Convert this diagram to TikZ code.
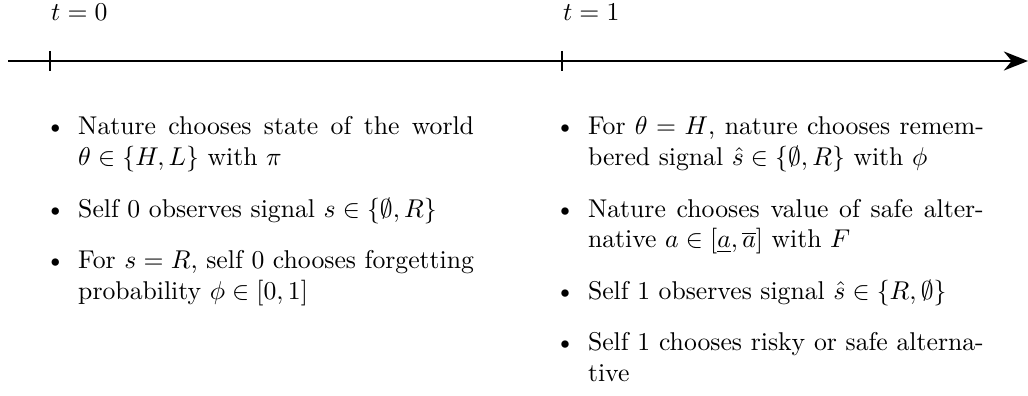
\documentclass[tikz,border=0pt]{standalone}
\usepackage{amsmath,amssymb}
\usetikzlibrary{arrows.meta}
\tikzset{
  >={Stealth[length=3.3mm,width=2.6mm]},
  tk/.style={thick},
  lbl/.style={inner sep=0pt},
  ev/.style={anchor=north west,inner sep=0pt,align=justify,text width=6.29cm},
}

\begin{document}
\begin{tikzpicture}
\useasboundingbox (-0.684,-4.567) rectangle (13.371,0.834);
\coordinate (a) at (-0.574,0); \coordinate (b) at (13.371,0);
\coordinate (p0) at (0,0); \coordinate (p1) at (7,0);
\draw[thick,->] (a)--(b);
\draw[tk] (p0) ++(0,0.14) -- ++(0,-0.28);
\draw[tk] (p1) ++(0,0.14) -- ++(0,-0.28);
\node[lbl] (l0) at (0.40,0.665){$t=0$};
\node[lbl] (l1) at (7.40,0.665){$t=1$};
\node[ev] (e0) at (-0.50,-0.30){%
\begin{itemize}
\item Nature chooses state of the world $\theta\in\{H,L\}$ with $\pi$
\item Self 0 observes signal $s\in\{\emptyset,R\}$
\item For $s=R$, self 0 chooses forgetting probability $\phi\in[0,1]$
\end{itemize}};
\node[ev] (e1) at (6.47,-0.30){%
\begin{itemize}
\item For $\theta=H$, nature chooses remembered signal $\hat{s}\in\{\emptyset,R\}$ with $\phi$
\item Nature chooses value of safe alternative $a\in[\underline{a},\overline{a}]$ with $F$
\item Self 1 observes signal $\hat{s}\in\{R,\emptyset\}$
\item Self 1 chooses risky or safe alternative
\end{itemize}};
\end{tikzpicture}
\end{document}
